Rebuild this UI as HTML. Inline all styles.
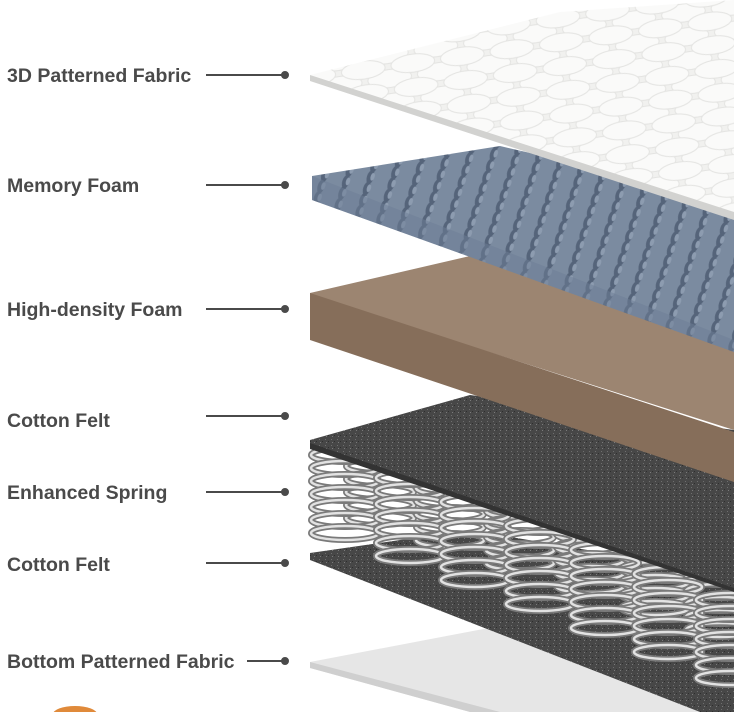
<!DOCTYPE html>
<html><head><meta charset="utf-8"><style>
html,body{margin:0;padding:0;background:#fff;width:734px;height:712px;overflow:hidden}
svg{display:block}
text{font-family:"Liberation Sans",Arial,sans-serif;font-weight:bold;font-size:19.5px;fill:#4a4a4a}
</style></head><body>
<svg width="734" height="712" viewBox="0 0 734 712" xmlns="http://www.w3.org/2000/svg">
<defs>
<pattern id="bub" width="50" height="24" patternUnits="userSpaceOnUse" patternTransform="rotate(-8)">
<rect width="50" height="24" fill="#f1f1ef"/>
<ellipse cx="25" cy="12" rx="22" ry="9" fill="#fafaf9" stroke="#e4e4e2" stroke-width="1"/>
<ellipse cx="0" cy="0" rx="22" ry="9" fill="#fafaf9" stroke="#e4e4e2" stroke-width="1"/>
<ellipse cx="50" cy="0" rx="22" ry="9" fill="#fafaf9" stroke="#e4e4e2" stroke-width="1"/>
<ellipse cx="0" cy="24" rx="22" ry="9" fill="#fafaf9" stroke="#e4e4e2" stroke-width="1"/>
<ellipse cx="50" cy="24" rx="22" ry="9" fill="#fafaf9" stroke="#e4e4e2" stroke-width="1"/>
</pattern>
<pattern id="egg" width="22" height="12" patternUnits="userSpaceOnUse" patternTransform="rotate(18)">
<rect width="22" height="12" fill="#7b8ba0"/>
<ellipse cx="11" cy="6" rx="3.5" ry="7" fill="#55647a"/>
<ellipse cx="13" cy="5" rx="2" ry="4" fill="#8d9cb0"/>
</pattern>
<pattern id="felt" width="6" height="6" patternUnits="userSpaceOnUse">
<rect width="6" height="6" fill="#474747"/>
<rect x="1" y="1" width="1" height="1" fill="#6e6e6e"/>
<rect x="4" y="3" width="1" height="1" fill="#2e2e2e"/>
<rect x="2" y="4" width="1" height="1" fill="#7a7a7a"/>
</pattern>
<g id="coil">
<ellipse cx="0" cy="0" rx="34" ry="7" fill="none" stroke="#7a7a7a" stroke-width="6"/>
<ellipse cx="0" cy="0" rx="34" ry="7" fill="none" stroke="#e2e2e2" stroke-width="2.5"/>
</g>
<g id="spring">
<use href="#coil" y="0"/><use href="#coil" y="13"/><use href="#coil" y="26"/><use href="#coil" y="39"/><use href="#coil" y="52"/><use href="#coil" y="65"/><use href="#coil" y="78"/>
</g>
</defs>

<!-- bottom fabric -->
<polygon points="310,662 520,622 734,600 734,712 470,712 310,668" fill="#e6e6e6"/>
<polygon points="310,662 310,668 470,712 500,712" fill="#cfcfcf"/>

<!-- lower felt -->
<polygon points="310,553 470,530 734,575 734,712 700,712 310,560" fill="url(#felt)"/>

<!-- springs -->
<g>
<use href="#spring" x="380" y="440"/>
<use href="#spring" x="450" y="462"/>
<use href="#spring" x="520" y="485"/>
<use href="#spring" x="590" y="508"/>
<use href="#spring" x="655" y="530"/>
<use href="#spring" x="720" y="552"/>
<use href="#spring" x="345" y="455"/>
<use href="#spring" x="410" y="478"/>
<use href="#spring" x="475" y="502"/>
<use href="#spring" x="540" y="526"/>
<use href="#spring" x="605" y="550"/>
<use href="#spring" x="668" y="574"/>
<use href="#spring" x="730" y="600"/>
</g>

<!-- upper felt -->
<polygon points="310,440 470,395 734,430 734,590 310,447" fill="url(#felt)"/>
<polygon points="310,443 734,588 734,592 310,449" fill="#333"/>

<!-- high density foam -->
<polygon points="310,293 470,256 734,300 734,430 310,295" fill="#9c8571"/>
<polygon points="310,293 734,432 734,482 310,340" fill="#866e5a"/>

<!-- memory foam -->
<polygon points="312,176 500,146 734,200 734,352 312,200" fill="url(#egg)"/>
<polygon points="312,176 312,200 734,352 734,340" fill="#6d7e95" opacity="0.5"/>

<!-- top fabric -->
<polygon points="310,75 560,12 734,0 734,216 310,80" fill="url(#bub)"/>
<polygon points="310,75 734,212 734,220 310,81" fill="#d2d2d0"/>

<!-- labels -->
<g>
<text x="7" y="82">3D Patterned Fabric</text>
<text x="7" y="192">Memory Foam</text>
<text x="7" y="316">High-density Foam</text>
<text x="7" y="427">Cotton Felt</text>
<text x="7" y="499">Enhanced Spring</text>
<text x="7" y="571">Cotton Felt</text>
<text x="7" y="668">Bottom Patterned Fabric</text>
</g>
<g stroke="#4a4a4a" stroke-width="2" fill="#4a4a4a">
<line x1="206" y1="75" x2="285" y2="75"/><circle cx="285" cy="75" r="3"/>
<line x1="206" y1="185" x2="285" y2="185"/><circle cx="285" cy="185" r="3"/>
<line x1="206" y1="309" x2="285" y2="309"/><circle cx="285" cy="309" r="3"/>
<line x1="206" y1="416" x2="285" y2="416"/><circle cx="285" cy="416" r="3"/>
<line x1="206" y1="492" x2="285" y2="492"/><circle cx="285" cy="492" r="3"/>
<line x1="206" y1="563" x2="285" y2="563"/><circle cx="285" cy="563" r="3"/>
<line x1="247" y1="661" x2="285" y2="661"/><circle cx="285" cy="661" r="3"/>
</g>
<ellipse cx="75" cy="714" rx="22" ry="8" fill="#e08a3a"/>
</svg>
</body></html>
